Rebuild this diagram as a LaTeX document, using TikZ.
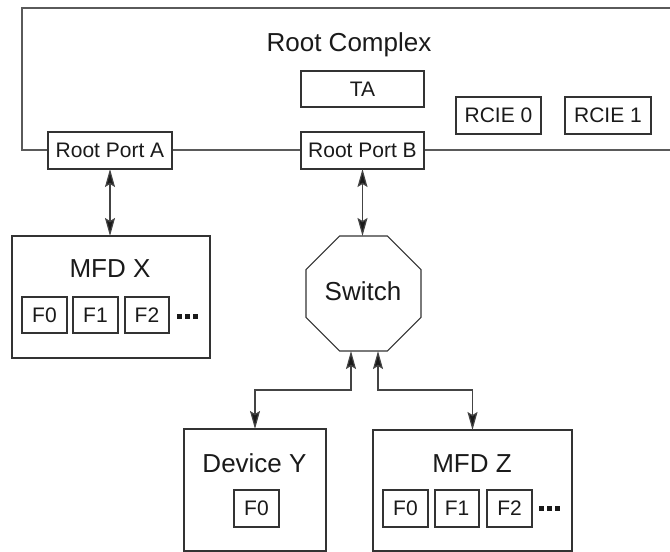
\documentclass[tikz,border=0pt]{standalone}
\usepackage{fontspec}
\setmainfont{Liberation Sans}
\usetikzlibrary{arrows.meta,shapes.geometric,calc}
\definecolor{boxc}{HTML}{333333}
\definecolor{outerc}{HTML}{5A5A5A}
\definecolor{linkc}{HTML}{444444}
\definecolor{txt}{HTML}{1A1A1A}
\begin{document}
\begin{tikzpicture}[x=1pt,y=-1pt,
  box/.style={draw=boxc, line width=1.1pt, fill=white, inner sep=0pt, outer sep=0pt,
    text=txt, font=\fontsize{21}{24}\selectfont},
  bigbox/.style={draw=boxc, line width=1.1pt, fill=white, inner sep=0pt, outer sep=0pt},
  title/.style={anchor=base, inner sep=0pt, text=txt, font=\fontsize{26}{30}\selectfont},
  octa/.style={draw=boxc, line width=1.1pt, fill=white, regular polygon, regular polygon sides=8,
    minimum size=124.5pt, inner sep=0pt, outer sep=0pt},
  outerline/.style={draw=outerc, line width=2pt},
  link/.style={draw=linkc, line width=1.2pt,
    {Stealth[length=18pt,width=10pt,inset=3pt,fill=txt]}-{Stealth[length=18pt,width=10pt,inset=3pt,fill=txt]}},
  dotsq/.style={fill=txt}
]
\useasboundingbox (0,0) rectangle (670,552);

% Root complex outline
\draw[outerline] (670,8) -- (22,8) -- (22,150) -- (670,150);
\node[title] (rc) at (349,51.7) {Root Complex};

\node[box, minimum width=123pt, minimum height=36pt] (ta) at (362.5,89) {TA};
\node[box, minimum width=85pt, minimum height=37pt] (rcie0) at (498.5,115.5) {RCIE 0};
\node[box, minimum width=86pt, minimum height=37pt] (rcie1) at (608,115.5) {RCIE 1};
\node[box, minimum width=124pt, minimum height=37pt] (rpa) at (110,150.5) {Root Port A};
\node[box, minimum width=123pt, minimum height=37pt] (rpb) at (362.5,150.5) {Root Port B};

% MFD X
\node[bigbox, minimum width=198pt, minimum height=122pt] (mfdx) at (111,297) {};
\node[title] (mfdxt) at (110,277) {MFD X};
\node[box, minimum width=45pt, minimum height=36pt] (x0) at (44.5,315) {F0};
\node[box, minimum width=45pt, minimum height=36pt] (x1) at (95.5,315) {F1};
\node[box, minimum width=44pt, minimum height=36pt] (x2) at (147,315) {F2};
\foreach \dx in {0,8,16} \fill[dotsq] (177+\dx,313.5) rectangle ++(5,5);

% Switch
\node[octa] (sw) at (363.5,293.5) {};
\node[title] (swt) at (363,300) {Switch};

% Device Y
\node[bigbox, minimum width=142pt, minimum height=122pt] (devy) at (255,490) {};
\node[title] (devyt) at (254.5,472) {Device Y};
\node[box, minimum width=45pt, minimum height=37pt] (y0) at (256.5,508.5) {F0};

% MFD Z
\node[bigbox, minimum width=199pt, minimum height=121pt] (mfdz) at (472.5,490.5) {};
\node[title] (mfdzt) at (472,472) {MFD Z};
\node[box, minimum width=45pt, minimum height=37pt] (z0) at (405.5,508.5) {F0};
\node[box, minimum width=44pt, minimum height=37pt] (z1) at (457,508.5) {F1};
\node[box, minimum width=45pt, minimum height=37pt] (z2) at (509.5,508.5) {F2};
\foreach \dx in {0,8,16} \fill[dotsq] (539+\dx,505.5) rectangle ++(5,5);

% connectors
\draw[link] (rpa.south) -- (rpa.south |- mfdx.north);
\draw[link] (rpb.south) -- (rpb.south |- sw.north);
\coordinate (sl) at ([xshift=-12.5pt]sw.south);
\coordinate (sr) at ([xshift=14.5pt]sw.south);
\draw[link] (sl) -- (sl |- 0,390) -| (devy.north);
\draw[link] (sr) -- (sr |- 0,390) -| (mfdz.north);
\end{tikzpicture}
\end{document}
